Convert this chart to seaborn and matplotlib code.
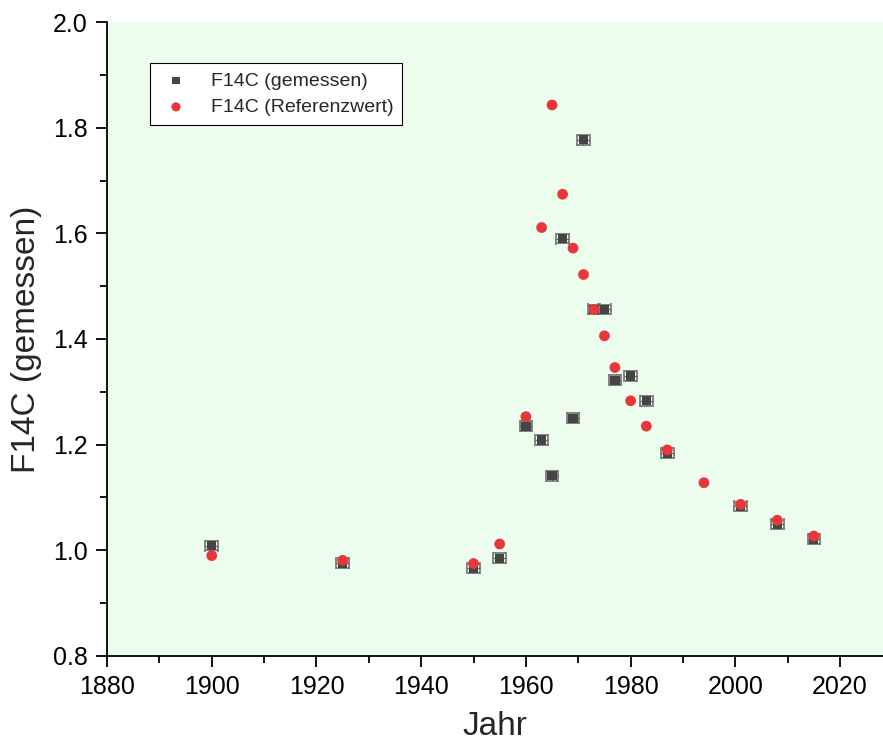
import numpy as np
import pandas as pd
import matplotlib
matplotlib.use("Agg")
import matplotlib.pyplot as plt
from matplotlib.ticker import MultipleLocator
import seaborn as sns

# -----------------------------
# Data
# -----------------------------
years_meas = [1900, 1925, 1950, 1955, 1960, 1963, 1965, 1967, 1969, 1971,
              1973, 1975, 1977, 1980, 1983, 1987, 2001, 2008, 2015]
f14c_meas = [1.009, 0.976, 0.966, 0.985, 1.235, 1.209, 1.141, 1.590, 1.250, 1.777,
             1.456, 1.456, 1.322, 1.330, 1.283, 1.184, 1.083, 1.049, 1.021]
xerr_meas = [1.2] * len(years_meas)
yerr_meas = [0.009] * len(years_meas)

years_ref = [1900, 1925, 1950, 1955, 1960, 1963, 1965, 1967, 1969, 1971,
             1973, 1975, 1977, 1980, 1983, 1987, 1994, 2001, 2008, 2015]
f14c_ref = [0.990, 0.981, 0.975, 1.012, 1.253, 1.611, 1.843, 1.674, 1.572, 1.522,
            1.456, 1.406, 1.346, 1.283, 1.235, 1.190, 1.128, 1.087, 1.057, 1.027]

# -----------------------------
# Configuration
# -----------------------------
sns.set_theme(style="ticks")
plt.rcParams["font.family"] = ["Liberation Sans", "DejaVu Sans"]

df_meas = pd.DataFrame({"Jahr": years_meas, "F14C": f14c_meas})
df_ref = pd.DataFrame({"Jahr": years_ref, "F14C": f14c_ref})

fig = plt.figure(figsize=(8.83, 7.49), dpi=100)
ax = fig.add_axes([0.1212, 0.1242, 0.8788, 0.8464])
ax.set_facecolor("#ecfdee")

# measured values with error bars
ax.errorbar(years_meas, f14c_meas, xerr=xerr_meas, yerr=yerr_meas, fmt="none",
            ecolor="#666666", elinewidth=0.9, capsize=4.5, capthick=1.1, zorder=2)
sns.scatterplot(data=df_meas, x="Jahr", y="F14C", marker="s", s=44, color="#454545",
                edgecolor="none", label="F14C (gemessen)", ax=ax, zorder=3)
sns.scatterplot(data=df_ref, x="Jahr", y="F14C", marker="o", s=60, color="#e8363a",
                edgecolor="none", label="F14C (Referenzwert)", ax=ax, zorder=4)

ax.set_xlim(1880, 2028.2)
ax.set_ylim(0.8, 2.0)
ax.xaxis.set_major_locator(MultipleLocator(20))
ax.xaxis.set_minor_locator(MultipleLocator(10))
ax.yaxis.set_major_locator(MultipleLocator(0.2))
ax.yaxis.set_minor_locator(MultipleLocator(0.1))
ax.yaxis.set_major_formatter(matplotlib.ticker.FormatStrFormatter("%.1f"))

ax.tick_params(which="major", direction="out", length=8, width=1.3, labelsize=18,
               color="black", labelcolor="black", pad=6)
ax.tick_params(which="minor", direction="out", length=5, width=1.3, color="black")

for side in ["top", "right"]:
    ax.spines[side].set_visible(False)
for side in ["left", "bottom"]:
    ax.spines[side].set_color("black")
    ax.spines[side].set_linewidth(1.3)

ax.set_xlabel("Jahr", fontsize=24, labelpad=8)
ax.set_ylabel("F14C (gemessen)", fontsize=24, labelpad=8)

leg = ax.legend(loc="upper left", bbox_to_anchor=(0.055, 0.935), fontsize=14,
                frameon=True, fancybox=False, borderpad=0.45, handletextpad=0.9,
                labelspacing=0.45, handlelength=1.8, borderaxespad=0, markerscale=0.85)
leg.get_frame().set_edgecolor("black")
leg.get_frame().set_linewidth(0.8)
leg.get_frame().set_facecolor("white")
leg.get_frame().set_alpha(1.0)

fig.savefig("out.png", dpi=100)
plt.close(fig)
